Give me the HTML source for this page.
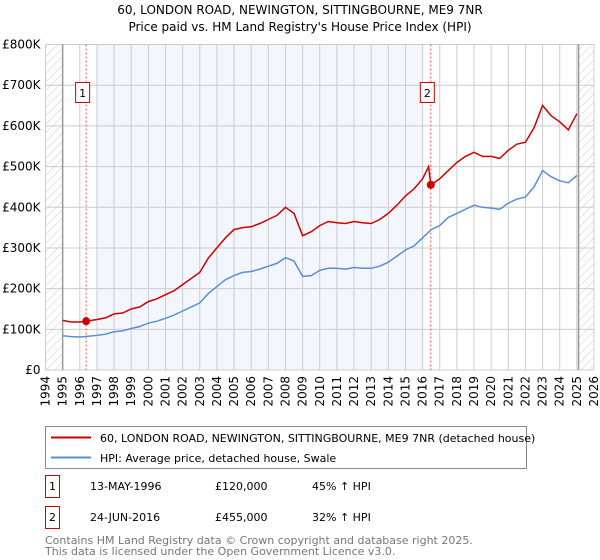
<!DOCTYPE html>
<html><head><meta charset="utf-8"><style>
body{margin:0;background:#fff;font-family:"DejaVu Sans","Liberation Sans",sans-serif;}
#wrap{position:relative;width:600px;height:560px;overflow:hidden;}
</style></head><body>
<div id="wrap">
<svg id="chart" width="600" height="560" style="position:absolute;left:0;top:0">
<defs>
<pattern id="hatch" width="6" height="6" patternUnits="userSpaceOnUse" patternTransform="rotate(45)">
<line x1="0" y1="0" x2="0" y2="6" stroke="#ccc" stroke-width="1"/>
</pattern>
</defs>
<text x="300" y="14" text-anchor="middle" font-size="12">60, LONDON ROAD, NEWINGTON, SITTINGBOURNE, ME9 7NR</text>
<text x="300" y="31" text-anchor="middle" font-size="12">Price paid vs. HM Land Registry's House Price Index (HPI)</text>
<g id="plot"></g>
<g>
<rect x="45.5" y="426.5" width="481" height="42" fill="#fff" stroke="#888"/>
<line x1="51" y1="437.5" x2="91" y2="437.5" stroke="#cc0000" stroke-width="2"/>
<text x="100" y="442" font-size="11">60, LONDON ROAD, NEWINGTON, SITTINGBOURNE, ME9 7NR (detached house)</text>
<line x1="51" y1="457.5" x2="91" y2="457.5" stroke="#5b8fd4" stroke-width="2"/>
<text x="100" y="462" font-size="11">HPI: Average price, detached house, Swale</text>
</g>
<g font-size="11">
<rect x="45.5" y="475.5" width="14" height="22" fill="#fff" stroke="#cc0000"/>
<text x="52.5" y="490" text-anchor="middle">1</text>
<text x="90" y="490">13-MAY-1996</text>
<text x="215" y="490">£120,000</text>
<text x="312" y="490">45% ↑ HPI</text>
<rect x="45.5" y="506.5" width="14" height="22" fill="#fff" stroke="#cc0000"/>
<text x="52.5" y="521" text-anchor="middle">2</text>
<text x="90" y="521">24-JUN-2016</text>
<text x="215" y="521">£455,000</text>
<text x="312" y="521">32% ↑ HPI</text>
</g>
<text x="45" y="544" font-size="11" fill="#777">Contains HM Land Registry data © Crown copyright and database right 2025.</text>
<text x="45" y="555" font-size="11" fill="#777">This data is licensed under the Open Government Licence v3.0.</text>
</svg>
</div>
<script>
const hpiYears=[1995,1995.5,1996,1996.5,1997,1997.5,1998,1998.5,1999,1999.5,2000,2000.5,2001,2001.5,2002,2002.5,2003,2003.5,2004,2004.5,2005,2005.5,2006,2006.5,2007,2007.5,2008,2008.5,2009,2009.5,2010,2010.5,2011,2011.5,2012,2012.5,2013,2013.5,2014,2014.5,2015,2015.5,2016,2016.5,2017,2017.5,2018,2018.5,2019,2019.5,2020,2020.5,2021,2021.5,2022,2022.5,2023,2023.5,2024,2024.5,2025];
const hpiValues=[84,82,81,83,85,88,94,96,102,107,115,120,127,135,145,155,165,188,205,222,232,240,242,248,255,262,276,268,230,232,245,250,250,248,252,250,250,255,265,280,295,305,325,345,355,375,385,395,405,400,398,395,410,420,425,450,490,475,465,460,478];
const redYears=[1995,1995.5,1996,1996.37,1997,1997.5,1998,1998.5,1999,1999.5,2000,2000.5,2001,2001.5,2002,2002.5,2003,2003.5,2004,2004.5,2005,2005.5,2006,2006.5,2007,2007.5,2008,2008.5,2009,2009.5,2010,2010.5,2011,2011.5,2012,2012.5,2013,2013.5,2014,2014.5,2015,2015.5,2016,2016.35,2016.48,2017,2017.5,2018,2018.5,2019,2019.5,2020,2020.5,2021,2021.5,2022,2022.5,2023,2023.5,2024,2024.5,2025];
const redValues=[122,118,118,120,124,128,138,140,150,155,168,175,185,195,210,225,240,275,300,325,345,350,352,360,370,380,400,385,330,340,355,365,362,360,365,362,360,370,385,405,428,445,470,500,455,470,490,510,525,535,525,525,520,540,555,560,595,650,625,610,590,630];
const saleYears=[1996.37,2016.48];
const saleValues=[120,455];
const yTicks=[0,100,200,300,400,500,600,700,800];
const xTicks=[1994,1995,1996,1997,1998,1999,2000,2001,2002,2003,2004,2005,2006,2007,2008,2009,2010,2011,2012,2013,2014,2015,2016,2017,2018,2019,2020,2021,2022,2023,2024,2025,2026];

const X0=45.5,X1=594,Y0=370,Y1=44.5;
const x=v=>X0+(v-1994)/32*(X1-X0);
const y=v=>Y0-v/800*(Y0-Y1);
const NS='http://www.w3.org/2000/svg';
const plot=document.getElementById('plot');
function mk(tag,attrs){const e=document.createElementNS(NS,tag);for(const k in attrs)e.setAttribute(k,attrs[k]);plot.appendChild(e);return e;}

let e;
e=mk('rect',{x:x(1997),y:Y1,width:x(2016.05)-x(1997),height:Y0-Y1,fill:'#f3f6fd'});


e=mk('rect',{x:X0,y:Y1,width:x(1995)-X0,height:Y0-Y1,fill:'url(#hatch)'});


e=mk('rect',{x:x(2025.1),y:Y1,width:X1-x(2025.1),height:Y0-Y1,fill:'url(#hatch)'});



yTicks.forEach(t=>{
  e=mk('line',{x1:X0,x2:X1,y1:y(t),y2:y(t),stroke:'#ccc','stroke-width':1});
  
  
  e=mk('text',{x:X0-5,y:y(t)+4,'text-anchor':'end','font-size':12});
  e.textContent=t===0?'£0':'£'+t+'K';
  
  
});
xTicks.forEach(t=>{
  e=mk('line',{x1:x(t),x2:x(t),y1:Y1,y2:Y0,stroke:'#ccc','stroke-width':1});
  
  
  e=mk('text',{x:0,y:0,'text-anchor':'end','font-size':12,transform:`translate(${x(t)+4},${Y0+6}) rotate(-90)`});
  e.textContent=t;
  
  
});
[1995,2025.1].forEach(t=>{
  e=mk('line',{x1:x(t),x2:x(t),y1:Y1,y2:Y0,stroke:'#999','stroke-width':1.5});
  
  
});
saleYears.forEach((s,i)=>{
  e=mk('line',{x1:x(s),x2:x(s),y1:Y1,y2:Y0,stroke:'#ee5555','stroke-width':1,'stroke-dasharray':'2,2'});
  
  
  e=mk('rect',{x:x(s)-10.5,y:82.5,width:14,height:20,fill:'#fff',stroke:'#cc0000'});
  
  
  e=mk('text',{x:x(s)-3.5,y:97,'text-anchor':'middle','font-size':11});
  e.textContent=String(i+1);
  
  
});
function pts(xs,vs){return xs.map((v,i)=>x(v).toFixed(1)+','+y(vs[i]).toFixed(1)).join(' ');}
e=mk('polyline',{points:pts(hpiYears,hpiValues),fill:'none',stroke:'#5b8fd4','stroke-width':1.5});


e=mk('polyline',{points:pts(redYears,redValues),fill:'none',stroke:'#cc0000','stroke-width':1.5});


saleYears.forEach((s,i)=>{
  e=mk('circle',{cx:x(s),cy:y(saleValues[i]),r:4,fill:'#cc0000'});
  
  
});
</script>
</body></html>
